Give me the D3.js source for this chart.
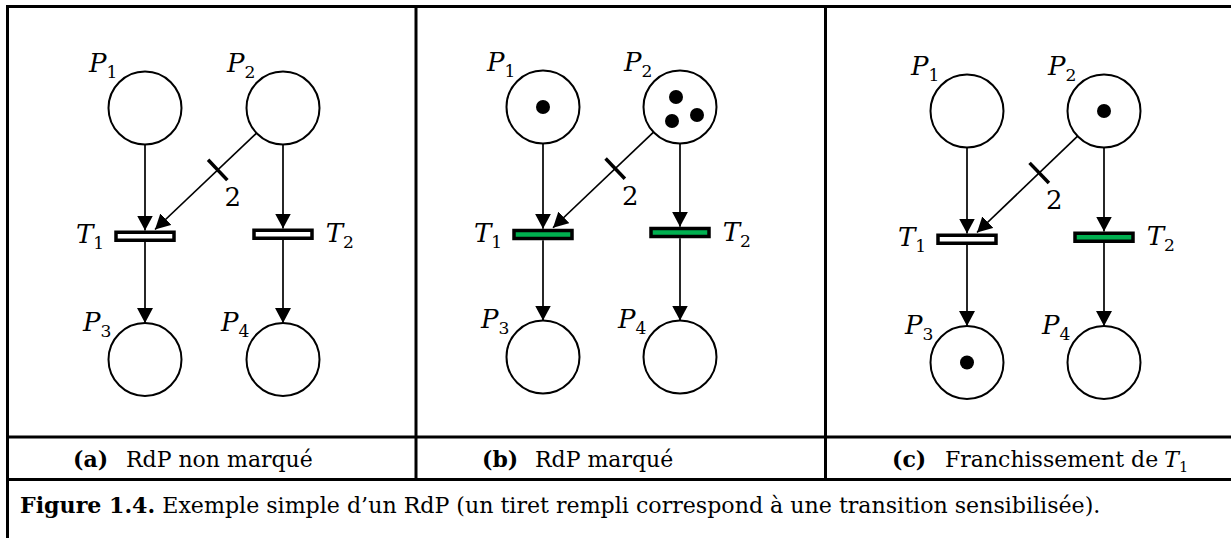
<!DOCTYPE html>
<html><head><meta charset="utf-8">
<script src="https://cdn.jsdelivr.net/npm/d3@7"></script>
<style>html,body{margin:0;padding:0;background:#fff;} svg{display:block;}</style>
</head><body>
<svg id="chart" width="1231" height="538"></svg>
<script>
// ---------------- data ----------------
const panelKeys = ["(a)", "(b)", "(c)"];
const panelTitles = ["RdP non marqué", "RdP marqué", "Franchissement de"];
const panelTitleMath = [null, null, "T1"];
const placeNames = ["P1", "P2", "P3", "P4"];
const placeCol = [0, 1, 0, 1];
const placeRow = [0, 0, 2, 2];
const transitionNames = ["T1", "T2"];
const transitionCol = [0, 1];
const transitionRow = [1, 1];
const markings = [[0, 0, 0, 0], [1, 3, 0, 0], [0, 1, 1, 0]];
const sensitized = [[false, false], [true, true], [false, true]];
const arcSource = ["P1", "P2", "P2", "T1", "T2"];
const arcTarget = ["T1", "T1", "T2", "P3", "P4"];
const arcWeight = [1, 2, 1, 1, 1];
const captionBold = "Figure 1.4.";
const captionText = " Exemple simple d\u2019un RdP (un tiret rempli correspond \u00e0 une transition sensibilis\u00e9e).";

// ---------------- layout ----------------
const W = 1231, H = 538;
const panelLeft = [7, 416, 826];
const colRanges = [[145, 283], [543, 680], [967, 1104]];
const rowRanges = [[108, 359.5], [107, 357], [111, 362.5]];
const transOffset = [2.5, 0.5];
const R = 36.5, barW = 58, barH = 8, barSW = 3.5;
const tokenR = 7;
const tokenLayout = {1: [[0, 0]], 2: [[-9, 0], [9, 0]], 3: [[-4, -10], [-8, 14], [17, 8]]};
const serif = "'DejaVu Serif', 'Liberation Serif', serif";
const green = "#00B050";

const svg = d3.select("#chart");
svg.append("rect").attr("width", W).attr("height", H).attr("fill", "#fff");

const defs = svg.append("defs");
defs.append("marker").attr("id", "arrow")
  .attr("markerUnits", "userSpaceOnUse")
  .attr("viewBox", "0 -8 16 16").attr("refX", 15).attr("refY", 0)
  .attr("markerWidth", 16).attr("markerHeight", 16).attr("orient", "auto")
  .append("path").attr("d", "M0,-8L15,0L0,8Z").attr("fill", "#000");

// frame lines
const frame = svg.append("g").attr("stroke", "#000").attr("stroke-width", 3);
frame.append("line").attr("x1", 7).attr("x2", W).attr("y1", 6.5).attr("y2", 6.5);
frame.append("line").attr("x1", 7.5).attr("x2", 7.5).attr("y1", 5).attr("y2", H);
frame.append("line").attr("x1", 6).attr("x2", W).attr("y1", 437).attr("y2", 437);
frame.append("line").attr("x1", 6).attr("x2", W).attr("y1", 479.5).attr("y2", 479.5);
[416, 825.5].forEach(x => frame.append("line").attr("x1", x).attr("x2", x).attr("y1", 5).attr("y2", 479.5));

function mathLabel(g, name, x, y, anchor, size) {
  const t = g.append("text").attr("x", x).attr("y", y)
    .attr("font-family", serif).attr("font-size", size).attr("text-anchor", anchor || "start");
  t.append("tspan").attr("font-style", "italic").text(name[0]);
  t.append("tspan").attr("font-size", size * 0.66).attr("dy", size * 0.24).text(name.slice(1));
  return t;
}

panelKeys.forEach((key, i) => {
  const g = svg.append("g");
  const x = d3.scaleLinear().domain([0, 1]).range(colRanges[i]);
  const y = d3.scaleLinear().domain([0, 2]).range(rowRanges[i]);
  const pos = {};
  placeNames.forEach((p, j) => pos[p] = {x: x(placeCol[j]), y: y(placeRow[j]), type: "P", row: placeRow[j], col: placeCol[j]});
  transitionNames.forEach((t, j) => pos[t] = {x: x(transitionCol[j]), y: y(transitionRow[j]) + transOffset[j], type: "T", col: transitionCol[j]});
  const halfBar = barH / 2 + barSW / 2;

  // arcs
  arcSource.forEach((s, k) => {
    const a = pos[s], b = pos[arcTarget[k]];
    let x1, y1, x2, y2;
    if (a.col === b.col) {
      x1 = a.type === "P" ? a.x : b.x; x2 = x1;
      y1 = a.type === "P" ? a.y + R : a.y + halfBar;
      y2 = b.type === "P" ? b.y - R : b.y - halfBar;
    } else {
      x2 = b.x + 10; y2 = b.y - halfBar - 1;
      const dx = x2 - a.x, dy = y2 - a.y, L = Math.hypot(dx, dy);
      x1 = a.x + R * dx / L; y1 = a.y + R * dy / L;
    }
    g.append("line").attr("x1", x1).attr("y1", y1).attr("x2", x2).attr("y2", y2)
      .attr("stroke", "#000").attr("stroke-width", 1.7).attr("marker-end", "url(#arrow)");
    if (arcWeight[k] > 1) {
      const dx = x2 - a.x, dy = y2 - a.y, L = Math.hypot(dx, dy);
      const ux = dx / L, uy = dy / L;
      const cx = a.x + ux * L * 0.51, cy = a.y + uy * L * 0.51;
      const px = -uy, py = ux;
      g.append("line").attr("x1", cx - px * 14).attr("y1", cy - py * 14)
        .attr("x2", cx + px * 14).attr("y2", cy + py * 14)
        .attr("stroke", "#000").attr("stroke-width", 3.5);
      g.append("text").attr("x", cx + 15).attr("y", cy + 36).attr("text-anchor", "middle")
        .attr("font-family", serif).attr("font-size", 26).text(arcWeight[k]);
    }
  });

  // places
  placeNames.forEach((p, j) => {
    const c = pos[p];
    g.append("circle").attr("cx", c.x).attr("cy", c.y).attr("r", R)
      .attr("fill", "#fff").attr("stroke", "#000").attr("stroke-width", 2);
    const n = markings[i][j];
    if (n > 0) {
      (tokenLayout[n] || []).forEach(o => g.append("circle")
        .attr("cx", c.x + o[0]).attr("cy", c.y + o[1]).attr("r", tokenR).attr("fill", "#000"));
    }
    if (c.row === 0) mathLabel(g, p, c.x - 56, c.y - 36, "start", 26);
    else mathLabel(g, p, c.x - 62, c.y - 29, "start", 26);
  });

  // transitions
  transitionNames.forEach((t, j) => {
    const c = pos[t];
    g.append("rect").attr("x", c.x - barW / 2).attr("y", c.y - barH / 2)
      .attr("width", barW).attr("height", barH)
      .attr("fill", sensitized[i][j] ? green : "#fff")
      .attr("stroke", "#000").attr("stroke-width", barSW);
    if (c.col === 0) mathLabel(g, t, c.x - barW / 2 - barSW / 2 - 10, c.y + 7, "end", 26);
    else mathLabel(g, t, c.x + barW / 2 + barSW / 2 + 12, c.y + 8, "start", 26);
  });

  // caption row
  const kx = panelLeft[i] + 66;
  g.append("text").attr("x", kx).attr("y", 467).attr("font-family", serif)
    .attr("font-weight", "bold").attr("font-size", 22).text(key);
  const tt = g.append("text").attr("class", "ptitle").attr("x", kx + 53).attr("y", 467)
    .attr("font-family", serif).attr("font-size", 22).text(panelTitles[i]);
  if (panelTitleMath[i]) {
    const w = tt.node().getComputedTextLength();
    mathLabel(g, panelTitleMath[i], kx + 53 + w + 6, 467, "start", 22);
  }
});

// figure caption
const cap = svg.append("text").attr("x", 20).attr("y", 513)
  .attr("font-family", serif).attr("font-size", 22);
cap.append("tspan").attr("font-weight", "bold").text(captionBold);
cap.append("tspan").text(captionText);
const cw = cap.node().getComputedTextLength();
cap.attr("font-size", 22 * 1081 / cw);
</script>
</body></html>
